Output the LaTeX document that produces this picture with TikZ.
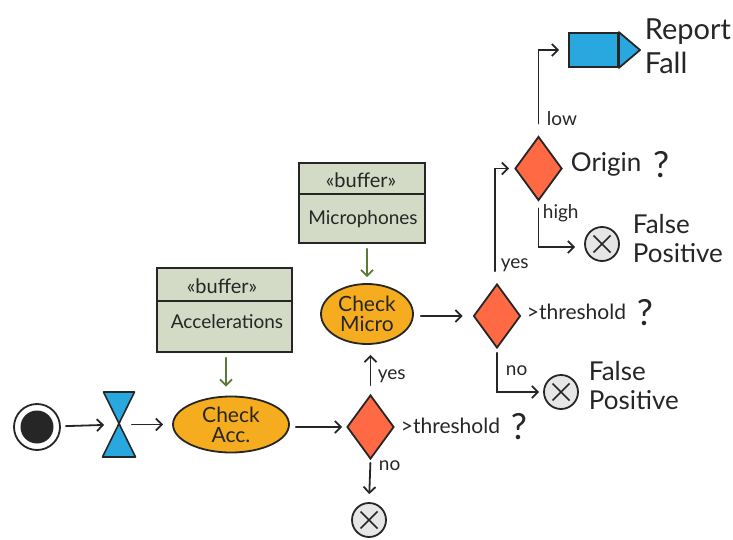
\documentclass[tikz,border=0pt]{standalone}
\usepackage{fontspec}
\setmainfont{Lato}
\usetikzlibrary{arrows.meta,shapes.geometric}
\definecolor{ink}{HTML}{262626}
\definecolor{accfill}{HTML}{F5AC1F}
\definecolor{decfill}{HTML}{FF6A45}
\definecolor{buffill}{HTML}{D3DBC6}
\definecolor{bufarrow}{HTML}{5B7A3A}
\definecolor{flagblue}{HTML}{29A8E0}
\definecolor{endfill}{HTML}{E6E6E6}
\begin{document}
\begin{tikzpicture}[x=1pt,y=-1pt,
  line width=1.8pt, draw=ink,
  flow/.style={-{Straight Barb[length=6pt,width=12pt,line width=1.8pt]}, draw=ink, line cap=round},
  feed/.style={flow, draw=bufarrow},
  action/.style={ellipse, draw=ink, fill=accfill, inner sep=0pt, align=center,
    font=\fontsize{21}{20}\selectfont, text=ink},
  decision/.style={diamond, draw=ink, fill=decfill, inner sep=0pt,
    minimum width=47pt, minimum height=64pt},
  flowend/.style={circle, draw=ink, fill=endfill, minimum size=34pt, inner sep=0pt,
    path picture={
      \draw[ink, line width=1.5pt]
        ([shift={(-8.5pt,-8.5pt)}]path picture bounding box.center) --
        ([shift={(8.5pt,8.5pt)}]path picture bounding box.center);
      \draw[ink, line width=1.5pt]
        ([shift={(-8.5pt,8.5pt)}]path picture bounding box.center) --
        ([shift={(8.5pt,-8.5pt)}]path picture bounding box.center);}},
  buffer/.style={rectangle, draw=ink, fill=buffill, inner sep=0pt},
  stereo/.style={font=\fontsize{20}{20}\selectfont, text=ink, inner sep=0pt},
  bufname/.style={font=\fontsize{19}{20}\selectfont, text=ink, inner sep=0pt},
  tag/.style={font=\fontsize{19}{19}\selectfont, text=ink, inner sep=0pt, anchor=west},
  note/.style={font=\fontsize{21}{22}\selectfont, text=ink, inner sep=0pt, anchor=west, align=left},
  qmark/.style={font=\fontsize{36}{36}\selectfont, text=ink, inner sep=0pt, anchor=west},
  big/.style={font=\fontsize{26}{29}\selectfont, text=ink, inner sep=0pt, anchor=west, align=left}
]
\useasboundingbox (0,0) rectangle (733,540);

% initial node
\node[circle, draw=ink, fill=white, minimum size=46pt, inner sep=0pt] (start) at (37,427) {};
\node[circle, fill=ink, minimum size=33pt, inner sep=0pt] at (start.center) {};

% hourglass (wait)
\node[minimum width=26pt, minimum height=66pt, inner sep=0pt] (wait) at (118,424.5) {};
\filldraw[fill=flagblue, draw=ink, line width=1.6pt, line join=round]
  (103.5,392) -- (134.5,392) -- (102.5,457) -- (135.5,457) -- cycle;

% actions
\node[action, minimum width=116pt, minimum height=56pt] (acc) at (231,424.5) {Check\\Acc.};
\node[action, minimum width=92pt, minimum height=60pt] (micro) at (367,314) {Check\\Micro};

% buffers
\node[buffer, minimum width=135pt, minimum height=84pt] (accbuf) at (224.5,310) {};
\draw ([yshift=-34pt]accbuf.north west) -- ([yshift=-34pt]accbuf.north east);
\node[stereo] at (222,286) {«buffer»};
\node[bufname] at (227,322) {Accelerations};

\node[buffer, minimum width=126pt, minimum height=80pt] (micbuf) at (362,203) {};
\draw ([yshift=-32pt]micbuf.north west) -- ([yshift=-32pt]micbuf.north east);
\node[stereo] at (361,180) {«buffer»};
\node[bufname] at (363,219) {Microphones};

% decisions
\node[decision] (d1) at (370.5,427) {};
\node[decision] (d2) at (497,316) {};
\node[decision] (d3) at (538.5,168.5) {};

% final nodes
\node[flowend] (x1) at (369,520) {};
\node[flowend] (x2) at (561,392) {};
\node[flowend] (x3) at (602,244) {};

% report fall signal
\node[rectangle, draw=ink, fill=flagblue, minimum width=49pt, minimum height=34pt, inner sep=0pt]
  (rep) at (593.5,50) {};
\filldraw[fill=flagblue, draw=ink, line join=round]
  (rep.north east) -- (640,50) -- (rep.south east) -- cycle;

% control flow
\draw[flow, shorten <=5pt, shorten >=0pt] (start) -- (wait);
\draw[flow, shorten <=0pt, shorten >=9pt] (wait.east |- acc.west) -- (acc.west);
\draw[flow, shorten <=6pt, shorten >=4pt] (acc.east |- d1.west) -- (d1.west);
\draw[flow, shorten <=9pt, shorten >=10pt] (d1.north) -- (d1.north |- micro.south);
\draw[flow, shorten <=3pt, shorten >=8pt] (d1.south) -- (x1.north);
\draw[flow, shorten <=7pt, shorten >=10pt] (micro.east |- d2.west) -- (d2.west);
\draw[flow, shorten <=4pt, shorten >=4pt] (d2.south) |- (x2.west);
\draw[flow, shorten <=12pt, shorten >=5pt] ([xshift=-2pt]d2.north) |- (d3.west);
\draw[flow, shorten <=7pt, shorten >=9pt] (d3.south) |- ([yshift=-3pt]x3.west);
\draw[flow, shorten <=12pt, shorten >=9pt] (d3.north) |- (rep.west);

% data flow from buffers
\draw[feed, shorten <=5pt, shorten >=9pt] ([xshift=1.5pt]accbuf.south) -- ([xshift=1.5pt]accbuf.south |- acc.north);
\draw[feed, shorten <=5pt, shorten >=6pt] ([xshift=5pt]micbuf.south) -- ([xshift=5pt]micbuf.south |- micro.north);

% guards and questions
\node[tag] at (377,376) {yes};
\node[tag] at (378,466) {no};
\node[note] (q1) at (400,426) {>threshold};
\node[qmark] at ([xshift=9pt,yshift=-1pt]q1.east) {?};
\node[tag] at (505,371) {no};
\node[tag] at (500,265) {yes};
\node[note] (q2) at (526,312) {>threshold};
\node[qmark] at ([xshift=9pt,yshift=-1pt]q2.east) {?};
\node[tag] at (542,213) {high};
\node[big] (q3) at (570,164) {Origin};
\node[qmark] at ([xshift=10pt,yshift=-1pt]q3.east) {?};
\node[tag] at (546,119) {low};

% outcome labels
\node[big] at (588,386) {False\\Positive};
\node[big] at (632,239) {False\\Positive};
\node[big, font=\fontsize{29}{34}\selectfont] at (644,46) {Report\\Fall};
\end{tikzpicture}
\end{document}
